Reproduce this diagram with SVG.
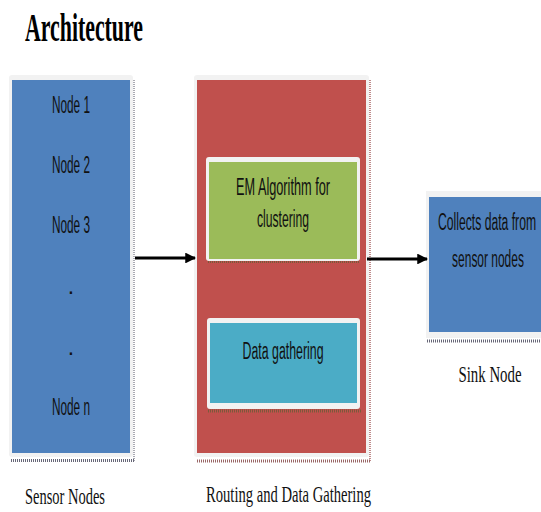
<svg xmlns="http://www.w3.org/2000/svg" width="541" height="512" viewBox="0 0 541 512">
<style>
.frame{fill:#f2f2f2}
.shadow{fill:none;stroke-width:3;stroke-dasharray:1 1}
.lbl{font-family:"Liberation Sans",Arial,sans-serif;font-size:23px;fill:#111;text-anchor:middle}
.cap{font-family:"Liberation Serif","Times New Roman",serif;font-size:24px;fill:#111}
.conn{stroke:#000;stroke-width:3;fill:none}
</style>
<defs>
<marker id="ah" viewBox="0 0 10 10" refX="9" refY="5" markerWidth="3.6" markerHeight="3.6" orient="auto" markerUnits="strokeWidth">
<path d="M0,0 L10,5 L0,10 Z" fill="#000"/>
</marker>
</defs>
<rect width="541" height="512" fill="#fff"/>
<text x="25" y="41" font-family="Liberation Serif,'Times New Roman',serif" font-weight="bold" font-size="40" textLength="118" lengthAdjust="spacingAndGlyphs" fill="#000">Architecture</text>

<g id="sensor-nodes">
<line x1="134" y1="80" x2="134" y2="462" stroke="#556" stroke-width="1" stroke-dasharray="1 1"/>
<line x1="11" y1="460.5" x2="134" y2="460.5" class="shadow" stroke="#667"/>
<rect x="9" y="75" width="124" height="382" rx="3" class="frame"/>
<rect x="12" y="80" width="118" height="373" fill="#4f81bd"/>
<text class="lbl" x="71" y="113" textLength="38" lengthAdjust="spacingAndGlyphs">Node 1</text>
<text class="lbl" x="71" y="173" textLength="38" lengthAdjust="spacingAndGlyphs">Node 2</text>
<text class="lbl" x="71" y="233" textLength="38" lengthAdjust="spacingAndGlyphs">Node 3</text>
<text class="lbl" x="71" y="294">.</text>
<text class="lbl" x="71" y="355">.</text>
<text class="lbl" x="71" y="415" textLength="38" lengthAdjust="spacingAndGlyphs">Node n</text>
<text class="cap" x="25" y="504" textLength="80" lengthAdjust="spacingAndGlyphs">Sensor Nodes</text>
</g>

<g id="routing">
<line x1="370" y1="80" x2="370" y2="462" stroke="#a66" stroke-width="1.5" stroke-dasharray="1 1"/>
<line x1="197" y1="461" x2="370" y2="461" class="shadow" stroke="#966"/>
<rect x="194" y="75" width="175" height="382" rx="3" class="frame"/>
<rect x="197" y="80" width="169" height="373" fill="#c0504d"/>
<text class="cap" x="206" y="502" textLength="165" lengthAdjust="spacingAndGlyphs">Routing and Data Gathering</text>
</g>

<g id="em-algorithm">
<line x1="208" y1="262" x2="360" y2="262" stroke="#7a5a3a" stroke-width="2" stroke-dasharray="1 1"/>
<rect x="206" y="157" width="154" height="104" rx="3" class="frame"/>
<rect x="209" y="162" width="148" height="97" fill="#9bbb59"/>
<text class="lbl" x="283" y="195" textLength="94" lengthAdjust="spacingAndGlyphs">EM Algorithm for</text>
<text class="lbl" x="283" y="227" textLength="52" lengthAdjust="spacingAndGlyphs">clustering</text>
</g>

<g id="data-gathering">
<line x1="208" y1="411" x2="361" y2="411" class="shadow" stroke="#7a5a3a"/>
<rect x="207" y="318" width="153" height="91" rx="3" class="frame"/>
<rect x="210" y="323" width="147" height="80" fill="#4bacc6"/>
<text class="lbl" x="283" y="359" textLength="81" lengthAdjust="spacingAndGlyphs">Data gathering</text>
</g>

<g id="sink-node">
<line x1="427" y1="341" x2="541" y2="341" class="shadow" stroke="#667"/>
<rect x="426" y="191" width="115" height="147" class="frame"/>
<rect x="429" y="197" width="112" height="135" fill="#4f81bd"/>
<text class="lbl" transform="translate(487,230) scale(0.53,1)">Collects data from</text>
<text class="lbl" transform="translate(488,267) scale(0.52,1)">sensor nodes</text>
<text class="cap" text-anchor="middle" transform="translate(490,382) scale(0.62,1)">Sink Node</text>
</g>

<g id="connectors">
<line class="conn" x1="135" y1="258" x2="195" y2="258" marker-end="url(#ah)"/>
<line class="conn" x1="367" y1="259" x2="427" y2="259" marker-end="url(#ah)"/>
</g>
</svg>
